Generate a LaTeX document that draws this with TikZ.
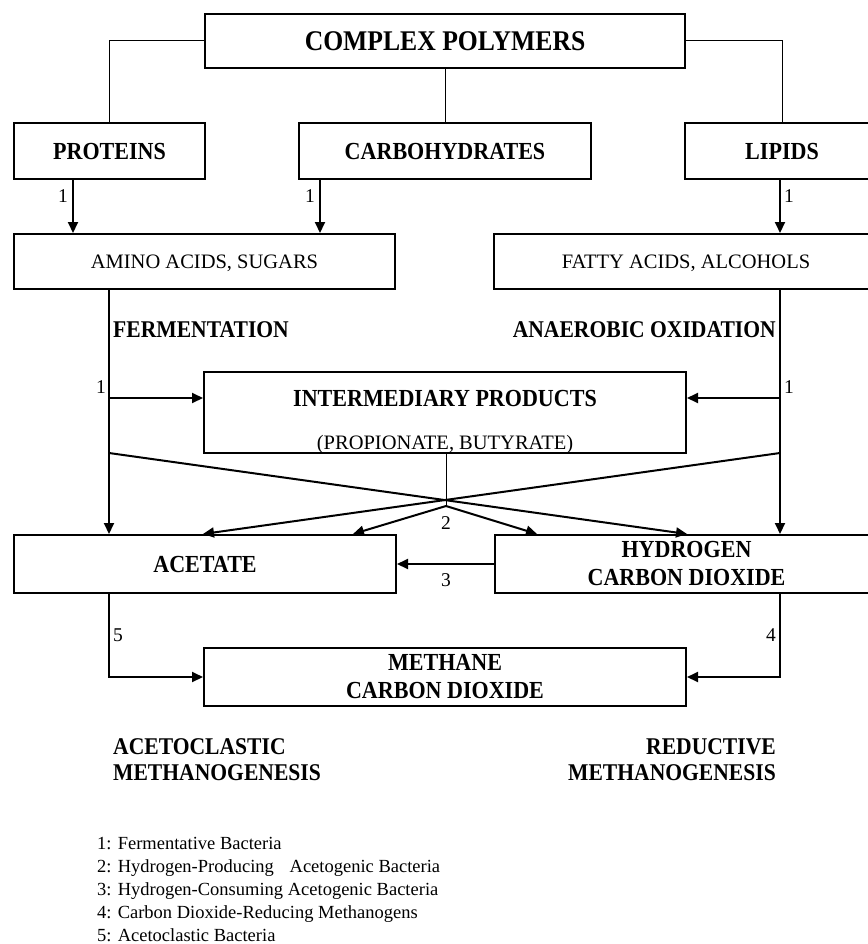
\documentclass[tikz,border=0pt]{standalone}
\usepackage{fontspec}
\setmainfont{Liberation Serif}
\newfontfamily\condserif{Liberation Serif}[FakeStretch=0.9]
\usetikzlibrary{arrows.meta}

\begin{document}
\begin{tikzpicture}[x=1pt,y=-1pt,
  every node/.style={inner sep=0pt},
  box/.style={draw, line width=2pt, inner sep=0pt},
  oneline/.style={text depth=0pt},
  bigfont/.style={font=\condserif\bfseries\fontsize{28.5}{32}\selectfont},
  boxfont/.style={font=\condserif\bfseries\fontsize{24.5}{28}\selectfont},
  headfont/.style={font=\condserif\bfseries\fontsize{24}{26}\selectfont},
  plainfont/.style={font=\fontsize{20.5}{24}\selectfont},
  numfont/.style={font=\fontsize{19.5}{22}\selectfont},
  legendfont/.style={font=\fontsize{18.5}{23}\selectfont},
  link/.style={line width=1pt},
  flow/.style={line width=2pt, -{Triangle[length=11pt,width=10pt]}},
]
\useasboundingbox (0,0) rectangle (867,944);

% ---- boxes ----
\node[box, oneline, bigfont, minimum width=480pt, minimum height=54pt] (cp) at (445,41) {COMPLEX POLYMERS};
\node[box, oneline, boxfont, minimum width=191pt, minimum height=56pt] (prot) at (109.5,151) {PROTEINS};
\node[box, oneline, boxfont, minimum width=292pt, minimum height=56pt] (carb) at (445,151) {CARBOHYDRATES};
\node[box, oneline, boxfont, minimum width=194pt, minimum height=56pt] (lip) at (782,151) {LIPIDS};
\node[box, oneline, plainfont, minimum width=381pt, minimum height=55pt] (amino) at (204.5,261.5) {AMINO ACIDS, SUGARS};
\node[box, oneline, plainfont, minimum width=384pt, minimum height=55pt] (fatty) at (686,261.5) {FATTY ACIDS, ALCOHOLS};
\node[box, minimum width=482pt, minimum height=81pt] (inter) at (445,412.5) {};
\node[boxfont, anchor=base] (intertitle) at (445,406) {INTERMEDIARY PRODUCTS};
\node[plainfont, anchor=base] (intersub) at (445,449) {(PROPIONATE, BUTYRATE)};
\node[box, oneline, boxfont, minimum width=382pt, minimum height=58pt] (acet) at (205,564) {ACETATE};
\node[box, boxfont, align=center, minimum width=383pt, minimum height=58pt] (hyd) at (686.5,564) {HYDROGEN\\CARBON DIOXIDE};
\node[box, boxfont, align=center, minimum width=482pt, minimum height=58pt] (meth) at (445,677) {METHANE\\CARBON DIOXIDE};

% ---- reference x positions of the vertical flows ----
\coordinate (xa) at (73,0);
\coordinate (xb) at (320,0);
\coordinate (xl) at (109,0);
\coordinate (xr) at (780,0);
\coordinate (xm) at (446,0);
\coordinate (tl) at (353,0);
\coordinate (tr) at (537,0);
\coordinate (jl) at (109,398);
\coordinate (jr) at (780,398);
\coordinate (kl) at (109,453);
\coordinate (kr) at (780,453);
\coordinate (split) at (446,506);

% ---- hydrolysis of the polymers ----
\draw[link] (cp.west) -| (prot.north);
\draw[link] (cp.east) -| (lip.north);
\draw[link] (cp.south) -- (carb.north);
\draw[flow] (prot.south -| xa) -- (amino.north -| xa);
\draw[flow] (carb.south -| xb) -- (amino.north -| xb);
\draw[flow] (lip.south -| xr) -- (fatty.north -| xr);

% ---- fermentation and anaerobic oxidation ----
\draw[flow] (amino.south -| xl) -- (acet.north -| xl);
\draw[flow] (fatty.south -| xr) -- (hyd.north -| xr);
\draw[flow] (jl) -- (jl -| inter.west);
\draw[flow] (jr) -- (jr -| inter.east);
\draw[flow] (kl) -- (hyd.north -| inter.east);
\draw[flow] (kr) -- (acet.north -| inter.west);

% ---- acetogenesis ----
\draw[link] (inter.south -| xm) -- (split);
\draw[flow] (split) -- (acet.north -| tl);
\draw[flow] (split) -- (hyd.north -| tr);
\draw[flow] (hyd.west) -- (acet.east);

% ---- methanogenesis ----
\draw[flow] (acet.south -| xl) |- (meth.west);
\draw[flow] (hyd.south -| xr) |- (meth.east);

% ---- step numbers ----
\node[numfont] (n1a) at (63,196) {1};
\node[numfont] (n1b) at (310,196) {1};
\node[numfont] (n1c) at (789,196) {1};
\node[numfont] (n1d) at (101,387) {1};
\node[numfont] (n1e) at (789,387) {1};
\node[numfont] (n2) at (446,523) {2};
\node[numfont] (n3) at (446,580) {3};
\node[numfont] (n5) at (118,635) {5};
\node[numfont] (n4) at (771,635) {4};

% ---- process names ----
\node[headfont, oneline, anchor=west] (ferm) at (113,330) {FERMENTATION};
\node[headfont, oneline, anchor=east] (anox) at (776,330) {ANAEROBIC OXIDATION};
\node[headfont, align=left, anchor=west] (aceto) at (113,760) {ACETOCLASTIC\\METHANOGENESIS};
\node[headfont, align=right, anchor=east] (reduc) at (776,760) {REDUCTIVE\\METHANOGENESIS};

% ---- legend ----
\node[legendfont, anchor=base west] (leg1) at (97,849) {1: Fermentative Bacteria};
\node[legendfont, anchor=base west] (leg2) at (97,872) {2: Hydrogen-Producing\hspace{0.6em} Acetogenic Bacteria};
\node[legendfont, anchor=base west] (leg3) at (97,895) {3: Hydrogen-Consuming Acetogenic Bacteria};
\node[legendfont, anchor=base west] (leg4) at (97,918) {4: Carbon Dioxide-Reducing Methanogens};
\node[legendfont, anchor=base west] (leg5) at (97,941) {5: Acetoclastic Bacteria};
\end{tikzpicture}
\end{document}
